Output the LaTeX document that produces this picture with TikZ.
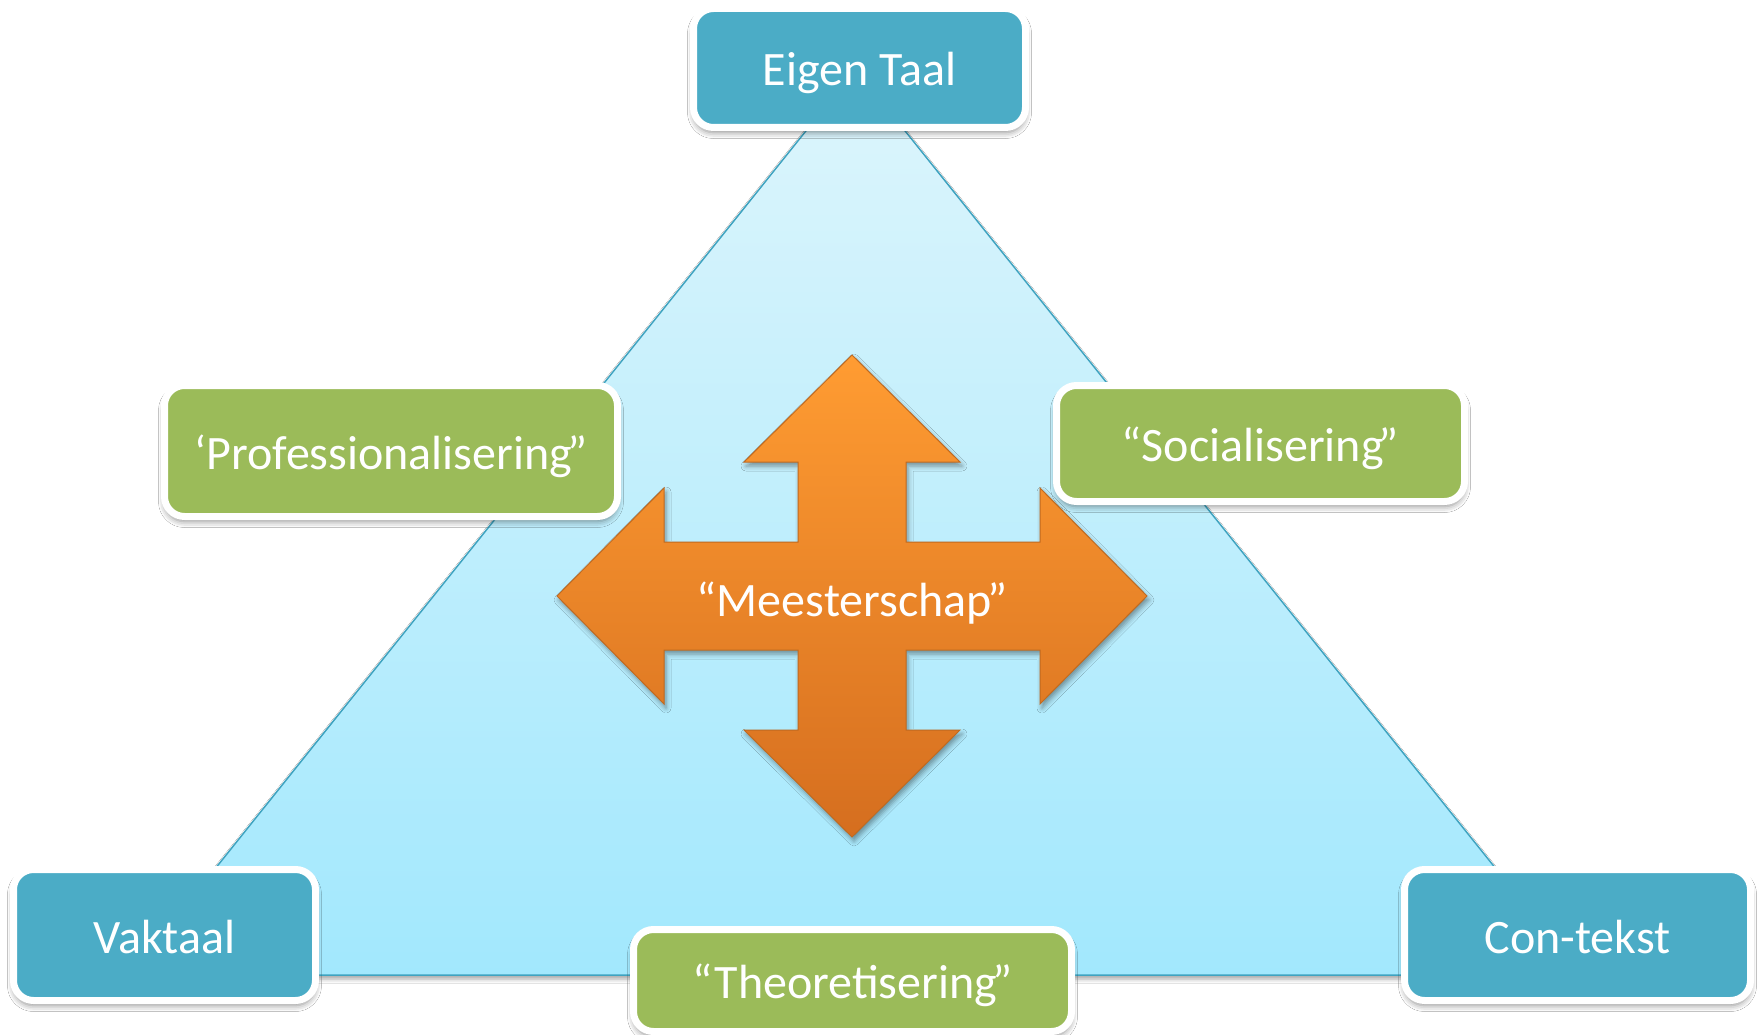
\documentclass[tikz,border=0pt]{standalone}
\usepackage{fontspec}
\setmainfont{Carlito}
\usetikzlibrary{shadows.blur}
\definecolor{teal1}{HTML}{4BACC6}
\definecolor{green1}{HTML}{9BBB59}
\definecolor{tritop}{HTML}{DDF5FC}
\definecolor{tribot}{HTML}{A2E8FD}
\definecolor{triline}{HTML}{3FA3C0}
\definecolor{orTop}{HTML}{FF9C32}
\definecolor{orBot}{HTML}{D56E1F}
\definecolor{orEdge}{HTML}{C06A20}
\newcommand{\myclq}{\kern-0.1em”}
\tikzset{
  lbl/.style={font=\fontsize{48}{58}\selectfont, text=white, text height=36pt, text depth=0pt},
  boxbase/.style={rectangle, rounded corners=20pt, draw=white, line width=7pt,
    inner sep=0pt, lbl,
    blur shadow={shadow xshift=0pt, shadow yshift=-5pt, shadow blur radius=6pt, shadow opacity=45}},
  tealbox/.style={boxbase, fill=teal1},
  greenbox/.style={boxbase, fill=green1},
}
\begin{document}
\begin{tikzpicture}[x=1pt,y=-1pt]
\useasboundingbox (0,0) rectangle (1761,1035);
\fill[white] (0,0) rectangle (1761,1035);
% triangle
\coordinate (apex) at (855.5,69);
\coordinate (bl) at (130,975);
\coordinate (br) at (1581,975);
\shade[top color=tritop, bottom color=tribot, draw=triline, line width=1.5pt,
  blur shadow={shadow xshift=0pt, shadow yshift=-4pt, shadow blur radius=4pt, shadow opacity=35}]
  (apex) -- (br) -- (bl) -- cycle;
% boxes
\node[tealbox, minimum width=332pt, minimum height=119pt] (eigen) at (859.5,68) {Eigen Taal};
\node[tealbox, minimum width=302pt, minimum height=131pt] (vak) at (164.5,935) {Vaktaal};
\node[tealbox, minimum width=346pt, minimum height=131pt] (con) at (1577.5,935) {Con-tekst};
\node[greenbox, minimum width=453pt, minimum height=131pt] (prof) at (391,451) {‘Professionalisering\myclq};
\node[greenbox, minimum width=408pt, minimum height=116pt] (soc) at (1260.5,443.5) {“Socialisering\myclq};
\node[greenbox, minimum width=438pt, minimum height=102pt] (theo) at (852.5,980.5) {“Theoretisering\myclq};
% quad arrow (centre 852,596)
\begin{scope}[shift={(852,596)}]
\shade[top color=orTop, bottom color=orBot, draw=orEdge, line width=1pt, line join=miter,
  blur shadow={shadow xshift=2pt, shadow yshift=-4pt, shadow blur radius=5pt, shadow opacity=40}]
  (0,-241) -- (108,-134) -- (54,-134) -- (54,-54) -- (188,-54) -- (188,-108)
  -- (295,0) -- (188,108) -- (188,54) -- (54,54) -- (54,134) -- (108,134)
  -- (0,241) -- (-108,134) -- (-54,134) -- (-54,54) -- (-188,54) -- (-188,108)
  -- (-295,0) -- (-188,-108) -- (-188,-54) -- (-54,-54) -- (-54,-134) -- (-108,-134) -- cycle;
\end{scope}
\node[lbl] (meest) at (852,598) {“Meesterschap\myclq};
\end{tikzpicture}
\end{document}
